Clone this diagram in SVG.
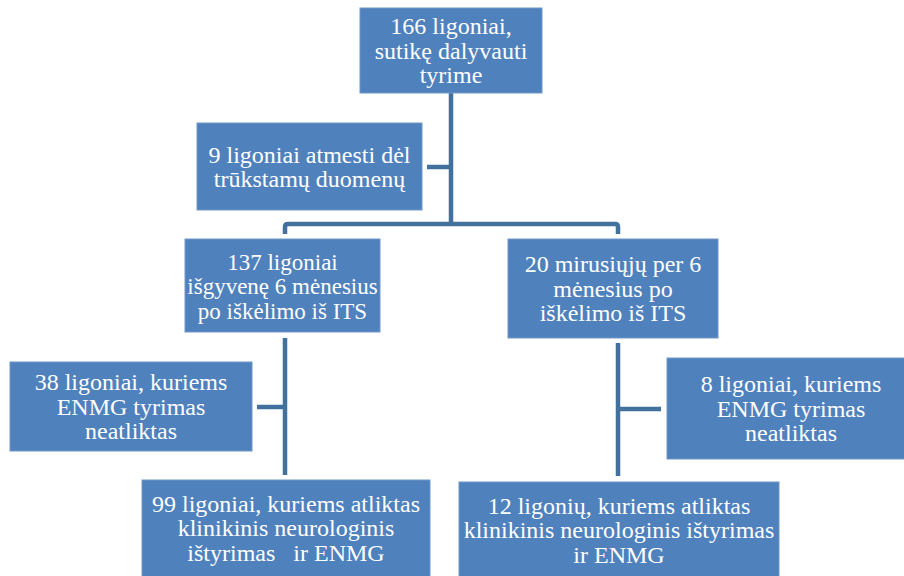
<svg xmlns="http://www.w3.org/2000/svg" width="904" height="576" viewBox="0 0 904 576">
<style>
.box{fill:#4F81BD;stroke:#7197C9;stroke-width:1}
.t{font-family:"Liberation Serif","Times New Roman",serif;font-size:24px;fill:#ffffff;text-anchor:middle}
.s{font-size:23px}
.c{fill:none;stroke:#41719C;stroke-width:4.5;stroke-linejoin:round}
</style>
<rect width="904" height="576" fill="#ffffff"/>
<g id="connectors">
<path class="c" d="M451,93 V224"/>
<path class="c" d="M285,234 V227 Q285,224 288,224 H615 Q618,224 618,227 V234"/>
<path class="c" d="M451,167 H427"/>
<path class="c" d="M285,338 V475"/>
<path class="c" d="M285,407 H257"/>
<path class="c" d="M618,343 V476"/>
<path class="c" d="M618,409 H661"/>
</g>
<g id="n166">
<rect class="box" x="360" y="8" width="182" height="85"/>
<text class="t" x="451" y="34">166 ligoniai,</text>
<text class="t" x="451" y="58.5">sutikę dalyvauti</text>
<text class="t" x="451" y="83">tyrime</text>
</g>
<g id="n9">
<rect class="box" x="197" y="123" width="225" height="87"/>
<text class="t" x="309.5" y="162.5">9 ligoniai atmesti dėl</text>
<text class="t" x="309.5" y="187">trūkstamų duomenų</text>
</g>
<g id="n137">
<rect class="box" x="185" y="239" width="195" height="93"/>
<text class="t s" x="282.5" y="269.5">137 ligoniai</text>
<text class="t s" x="282.5" y="294">išgyvenę 6 mėnesius</text>
<text class="t s" x="282.5" y="318.5">po iškėlimo iš ITS</text>
</g>
<g id="n20">
<rect class="box" x="508" y="239" width="210" height="99"/>
<text class="t" x="613" y="272">20 mirusiųjų per 6</text>
<text class="t" x="613" y="296.5">mėnesius po</text>
<text class="t" x="613" y="321">iškėlimo iš ITS</text>
</g>
<g id="n38">
<rect class="box" x="10" y="362" width="242" height="89"/>
<text class="t" x="131" y="390">38 ligoniai, kuriems</text>
<text class="t" x="131" y="414.5">ENMG tyrimas</text>
<text class="t" x="131" y="439">neatliktas</text>
</g>
<g id="n8">
<rect class="box" x="667" y="358" width="240" height="101"/>
<text class="t" x="791" y="392">8 ligoniai, kuriems</text>
<text class="t" x="791" y="416.5">ENMG tyrimas</text>
<text class="t" x="791" y="441">neatliktas</text>
</g>
<g id="n99">
<rect class="box" x="142" y="480" width="288" height="100"/>
<text class="t" x="286" y="511.5">99 ligoniai, kuriems atliktas</text>
<text class="t" x="286" y="536">klinikinis neurologinis</text>
<text class="t" x="286" y="560.5" xml:space="preserve" style="white-space:pre">ištyrimas   ir ENMG</text>
</g>
<g id="n12">
<rect class="box" x="459" y="482" width="320" height="100"/>
<text class="t" x="619" y="513.5">12 ligonių, kuriems atliktas</text>
<text class="t" x="619" y="538">klinikinis neurologinis ištyrimas</text>
<text class="t" x="619" y="562.5">ir ENMG</text>
</g>
</svg>
